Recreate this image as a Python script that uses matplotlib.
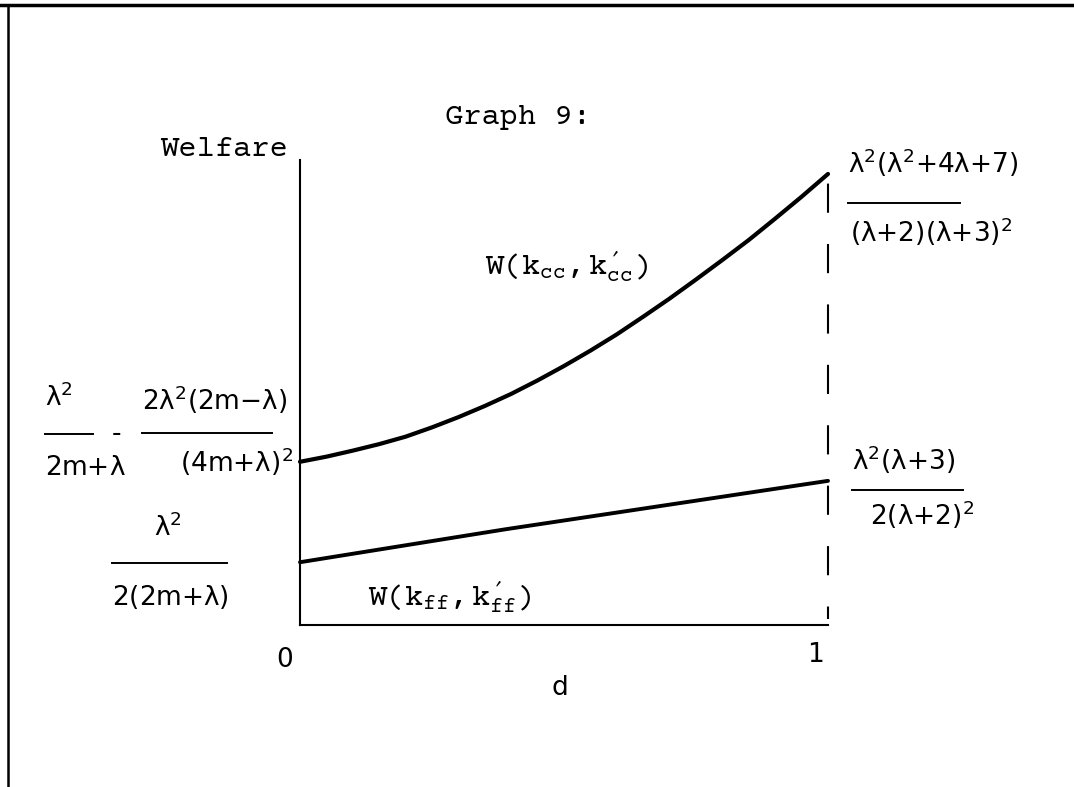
import matplotlib
matplotlib.use("Agg")
import matplotlib.pyplot as plt
from matplotlib.lines import Line2D

# welfare curves read along d in [0, 1], welfare scaled so the axis top is 1
d_cc = [0.0, 0.05, 0.10, 0.15, 0.20, 0.25, 0.30, 0.35, 0.40, 0.45, 0.50,
        0.55, 0.60, 0.65, 0.70, 0.75, 0.80, 0.85, 0.90, 0.95, 1.0]
w_cc = [0.351, 0.362, 0.375, 0.389, 0.405, 0.425, 0.447, 0.471, 0.497, 0.526, 0.557,
        0.590, 0.625, 0.663, 0.702, 0.743, 0.785, 0.828, 0.874, 0.921, 0.970]
d_ff = [0.0, 0.39, 1.0]
w_ff = [0.135, 0.206, 0.310]

title = "Graph 9:"
y_label = "Welfare"
x_label = "d"
x_ticks = ["0", "1"]
label_cc = r"$W(k_{cc},k^{\prime}_{cc})$"
label_ff = r"$W(k_{ff},k^{\prime}_{ff})$"

TYPE = "Courier Prime"
plt.rcParams["mathtext.fontset"] = "custom"
plt.rcParams["mathtext.rm"] = TYPE
plt.rcParams["mathtext.it"] = TYPE

W, H = 1074, 787
fig = plt.figure(figsize=(W / 100, H / 100), dpi=100)


def px(x, y):
    return x / W, 1 - y / H


def mono(x, y, s, size=22, **kw):
    fig.text(*px(x, y), s, family=TYPE, fontsize=size, va="center", **kw)


def formula(x, y, s, size=19, **kw):
    fig.text(*px(x, y), s, fontsize=size, math_fontfamily="dejavusans",
             va="center", **kw)


def bar(x0, x1, y, lw=1.4):
    (fx0, fy), (fx1, _) = px(x0, y), px(x1, y)
    fig.add_artist(Line2D([fx0, fx1], [fy, fy], color="black", lw=lw))


# page frame (top and left edges)
fig.add_artist(Line2D([0, 1], [px(0, 5)[1]] * 2, color="black", lw=2.5))
fig.add_artist(Line2D([px(8, 0)[0]] * 2, [0, px(0, 5)[1]], color="black", lw=1.8))

ax = fig.add_axes([300 / W, (H - 625) / H, 528 / W, 465 / H])
ax.set_xlim(0, 1)
ax.set_ylim(0, 1)
for side in ["top", "right"]:
    ax.spines[side].set_visible(False)
for side in ["left", "bottom"]:
    ax.spines[side].set_linewidth(1.5)
ax.set_xticks([])
ax.set_yticks([])
ax.patch.set_alpha(0)

ax.plot(d_cc, w_cc, color="black", lw=3.0, solid_capstyle="round", clip_on=False)
ax.plot(d_ff, w_ff, color="black", lw=2.8, solid_capstyle="round", clip_on=False)
ax.plot([1, 1], [0.012, 1], color="black", lw=1.5, linestyle=(8, (14, 15)), clip_on=False)

# titles and axis labels
mono(518, 118, title, ha="center")
mono(224, 150, y_label, ha="center")
formula(285, 660, x_ticks[0], ha="center")
formula(815, 655, x_ticks[1], ha="center")
formula(560, 688, x_label, ha="center")

mono(485, 268, label_cc, ha="left")
mono(368, 598, label_ff, ha="left")

# left-hand intercept values
formula(45, 398, r"$\mathrm{\lambda^2}$")
bar(45, 93, 434)
formula(45, 468, r"$\mathrm{2m{+}\lambda}$")
formula(112, 434, "-", size=19)
formula(142, 400, r"$\mathrm{2\lambda^2(2m{-}\lambda)}$")
bar(142, 272, 433)
formula(180, 462, r"$\mathrm{(4m{+}\lambda)^2}$")

formula(168, 528, r"$\mathrm{\lambda^2}$", ha="center")
bar(112, 227, 563)
formula(112, 597, r"$\mathrm{2(2m{+}\lambda)}$")

# right-hand values at d = 1
formula(848, 163, r"$\mathrm{\lambda^2(\lambda^2{+}4\lambda{+}7)}$")
bar(848, 960, 203)
formula(850, 232, r"$\mathrm{(\lambda{+}2)(\lambda{+}3)^2}$")

formula(852, 460, r"$\mathrm{\lambda^2(\lambda{+}3)}$")
bar(852, 963, 490)
formula(870, 515, r"$\mathrm{2(\lambda{+}2)^2}$")

fig.savefig("out.png", dpi=100)
